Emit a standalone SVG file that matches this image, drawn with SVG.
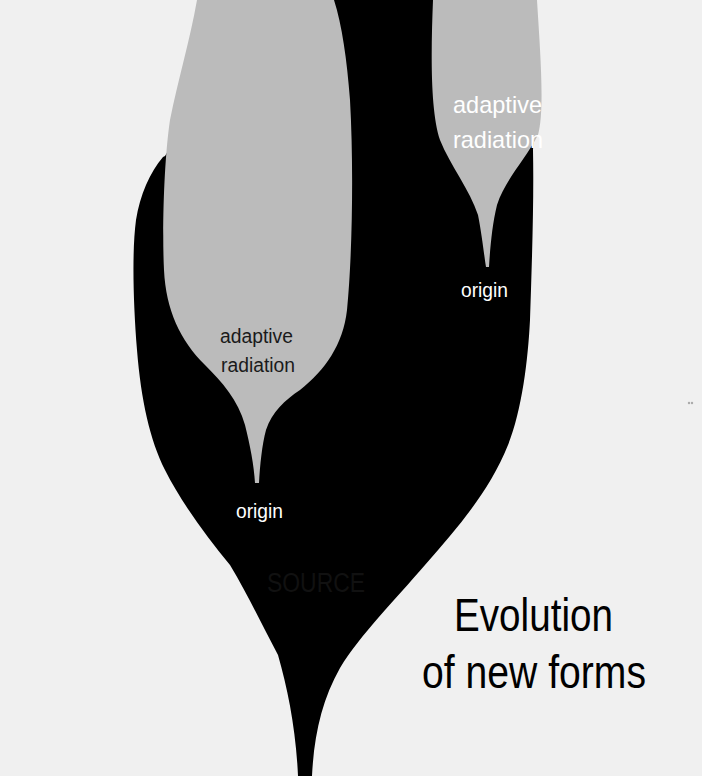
<svg xmlns="http://www.w3.org/2000/svg" width="702" height="776" viewBox="0 0 702 776">
  <style>
    .bg { fill: #f0f0f0; }
    .trunk { fill: #000000; }
    .branch { fill: #bbbbbb; }
    .lbl { font-family: "Liberation Sans", Arial, sans-serif; }
    .white { fill: #ffffff; }
    .dark { fill: #1a1a1a; }
    .src { fill: #111111; }
    .title { fill: #000000; font-size: 46px; }
  </style>
  <rect class="bg" x="0" y="0" width="702" height="776"/>

  <g id="source-trunk">
    <path class="trunk" d="M163,157 C150,172 140,195 136,220 C132,250 133,300 137,350 C141,400 150,440 165,470 C180,500 205,535 230,565 C248,595 262,625 278,655 C288,690 296,730 298,776 L312,776 C314,735 322,700 340,668 C360,635 395,600 425,565 C460,525 490,490 508,445 C522,410 528,360 530,320 C532,260 534,200 533,150 C534,130 537,115 540,100 L500,40 L440,0 L334,0 L260,40 L175,140 L165,156 Z"/>
    <text class="lbl src" x="267" y="592" font-size="27" textLength="98" lengthAdjust="spacingAndGlyphs">SOURCE</text>
  </g>

  <g id="lineage-left">
    <path class="branch" d="M197,0 C190,40 178,80 170,120 C164,160 162,230 164,270 C166,310 180,340 205,365 C222,382 238,400 245,425 C250,445 254,465 255,483 L259,483 C260,465 262,445 266,430 C272,412 285,400 300,390 C325,370 343,345 347,310 C352,260 354,170 350,100 C347,60 342,25 334,0 Z"/>
    <text class="lbl dark" x="220" y="343" font-size="20" textLength="73" lengthAdjust="spacingAndGlyphs">adaptive</text>
    <text class="lbl dark" x="221" y="372" font-size="20" textLength="74" lengthAdjust="spacingAndGlyphs">radiation</text>
    <text class="lbl white" x="236" y="518" font-size="20" textLength="47" lengthAdjust="spacingAndGlyphs">origin</text>
  </g>

  <g id="lineage-right">
    <path class="branch" d="M433,0 C431,50 430,110 440,140 C450,165 470,190 478,215 C482,235 484,255 486,267 L489,267 C490,250 492,225 497,205 C505,180 525,160 538,135 C545,110 540,50 537,0 Z"/>
    <text class="lbl white" x="453" y="113" font-size="24" textLength="89" lengthAdjust="spacingAndGlyphs">adaptive</text>
    <text class="lbl white" x="453" y="148" font-size="24" textLength="90" lengthAdjust="spacingAndGlyphs">radiation</text>
    <text class="lbl white" x="461" y="297" font-size="20" textLength="47" lengthAdjust="spacingAndGlyphs">origin</text>
  </g>

  <g id="title">
    <text class="lbl title" x="454" y="631" textLength="159" lengthAdjust="spacingAndGlyphs">Evolution</text>
    <text class="lbl title" x="422" y="688" textLength="224" lengthAdjust="spacingAndGlyphs">of new forms</text>
  </g>

  <g id="speck">
    <circle cx="689" cy="403" r="1.2" fill="#aaaaaa"/>
    <circle cx="692" cy="403" r="1.2" fill="#aaaaaa"/>
  </g>
</svg>
